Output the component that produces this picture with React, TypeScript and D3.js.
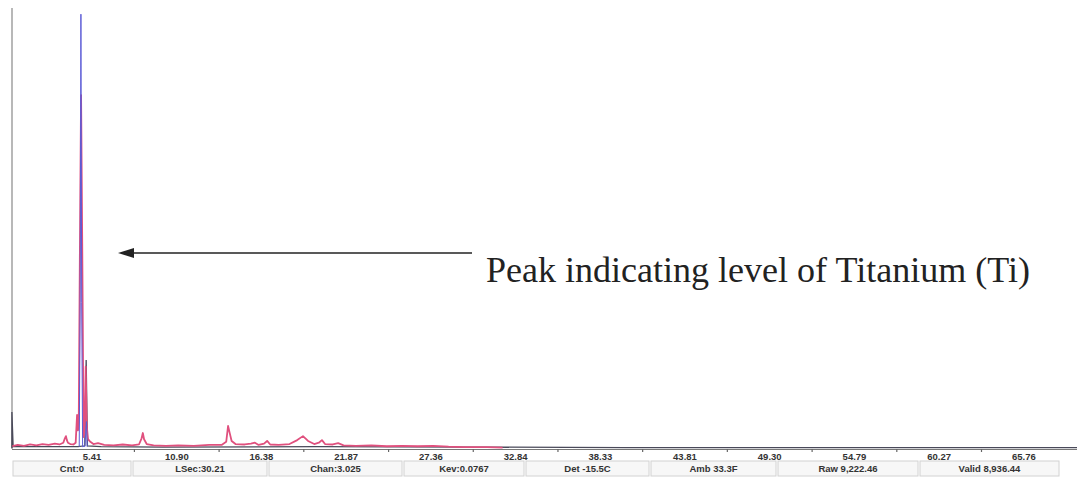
import React from "react";
import * as d3 from "d3";

// ---- data ----
const tickValues = [5.41, 10.90, 16.38, 21.87, 27.36, 32.84, 38.33, 43.81, 49.30, 54.79, 60.27, 65.76];
const tickLabels = ["5.41", "10.90", "16.38", "21.87", "27.36", "32.84", "38.33", "43.81", "49.30", "54.79", "60.27", "65.76"];

// pink (sample) spectrum: [keV, counts]
const pinkSpectrum: [number, number][] = [
  [0.25, 4], [0.6, 7], [1.0, 5], [1.4, 8], [1.8, 6], [2.2, 9], [2.6, 7], [3.0, 10], [3.3, 8],
  [3.55, 12], [3.65, 22], [3.72, 27], [3.78, 18], [3.85, 12], [4.0, 9], [4.2, 8], [4.35, 12],
  [4.44, 75], [4.5, 40], [4.55, 60], [4.62, 430], [4.7, 802], [4.78, 440], [4.86, 25],
  [4.93, 40], [5.0, 185], [5.07, 50], [5.15, 20], [5.3, 14], [5.5, 9], [5.8, 11], [6.2, 7],
  [6.8, 6], [7.4, 8], [8.0, 6], [8.45, 8], [8.62, 22], [8.7, 34], [8.78, 20], [8.95, 9],
  [9.4, 6], [10.2, 5], [11.0, 6], [12.0, 5], [13.0, 7], [13.8, 7], [14.1, 14], [14.22, 50],
  [14.32, 35], [14.45, 16], [14.7, 9], [15.3, 8], [15.7, 10], [15.96, 12], [16.2, 7],
  [16.55, 10], [16.75, 16], [16.95, 8], [17.5, 7], [18.2, 9], [18.7, 18], [19.07, 27],
  [19.4, 16], [19.8, 9], [20.1, 12], [20.3, 18], [20.5, 9], [21.0, 8], [21.35, 11],
  [21.7, 6], [22.5, 5], [23.5, 6], [24.5, 4], [25.5, 5], [26.5, 4], [27.5, 5], [28.5, 3],
  [29.5, 2], [31.0, 2], [32.0, 1],
];

// blue (reference) Ti peak
const blueSpectrum: [number, number][] = [
  [4.58, 3], [4.64, 330], [4.69, 986], [4.74, 330], [4.8, 3], [4.95, 4], [5.05, 60], [5.1, 3],
];

// dark grey trace
const greySpectrum: [number, number][] = [
  [0.22, 0], [0.22, 82], [0.3, 3], [2.0, 3], [4.5, 3], [4.94, 5], [5.03, 200], [5.11, 5],
  [6.0, 3], [10.0, 2], [20.0, 3], [30.0, 2], [40.0, 1], [50.0, 1], [60.0, 1], [69.2, 1],
];

const statusTexts = ["Cnt:0", "LSec:30.21", "Chan:3.025", "Kev:0.0767", "Det -15.5C", "Amb 33.3F", "Raw 9,222.46", "Valid 8,936.44"];
const statusEdges = [12, 132, 268, 403, 525, 650, 777, 919, 1060];

const annotation = "Peak indicating level of Titanium (Ti)";

export default function App() {
  const W = 1077, H = 479;
  const x = d3.scaleLinear().domain([0, 69.2]).range([8.5, 1077]);
  const y = d3.scaleLinear().domain([0, 1000]).range([448, 8]);
  const line = d3.line<[number, number]>().x((d) => x(d[0])).y((d) => y(d[1]));
  const axisLeft = 12;
  const minorTicks = tickValues.slice(0, -1).map((v, i) => (v + tickValues[i + 1]) / 2);

  return (
    <svg width={W} height={H} style={{ position: "absolute", left: 0, top: 0, background: "#fff" }}>
      <rect x={0} y={0} width={W} height={H} fill="#fff" />
      {/* y axis line */}
      <line x1={axisLeft} x2={axisLeft} y1={8} y2={449} stroke="#a0a0a0" strokeWidth={1.5} />
      {/* x axis line */}
      <line x1={axisLeft} x2={W} y1={449.5} y2={449.5} stroke="#777" strokeWidth={1} />
      {minorTicks.map((v, i) => (
        <line key={i} x1={x(v)} x2={x(v)} y1={449} y2={452} stroke="#666" strokeWidth={1.2} />
      ))}
      {/* spectra */}
      <path d={line(greySpectrum) || ""} fill="none" stroke="#4a4a5a" strokeWidth={1.3} />
      <path d={line(pinkSpectrum) || ""} fill="none" stroke="#e0507e" strokeWidth={1.8} strokeLinejoin="round" />
      <path d={line(blueSpectrum) || ""} fill="none" stroke="#5c5cd6" strokeWidth={1} />
      {/* tick labels */}
      {tickValues.map((v, i) => (
        <text key={i} x={x(v)} y={460} textAnchor="middle" fontFamily="Liberation Sans, Arial, sans-serif"
          fontWeight="bold" fontSize={9.5} fill="#333">{tickLabels[i]}</text>
      ))}
      {/* status bar */}
      {statusTexts.map((t, i) => {
        const x0 = statusEdges[i], x1 = statusEdges[i + 1];
        return (
          <g key={i}>
            <rect x={x0 + 1} y={461} width={x1 - x0 - 2} height={15} fill="#f7f7f7" stroke="#d2d2d2" strokeWidth={1} />
            <text x={(x0 + x1) / 2} y={472} textAnchor="middle" fontFamily="Liberation Sans, Arial, sans-serif"
              fontWeight="bold" fontSize={9.5} fill="#333">{t}</text>
          </g>
        );
      })}
      {/* annotation arrow */}
      <line x1={472} x2={126} y1={253} y2={253} stroke="#222" strokeWidth={1.6} />
      <path d="M118,253 L134,248 L134,258 Z" fill="#222" />
      <text x={486} y={282} fontFamily="Liberation Serif, Times New Roman, serif" fontSize={35} fill="#222"
        textLength={544} lengthAdjust="spacingAndGlyphs">{annotation}</text>
    </svg>
  );
}
